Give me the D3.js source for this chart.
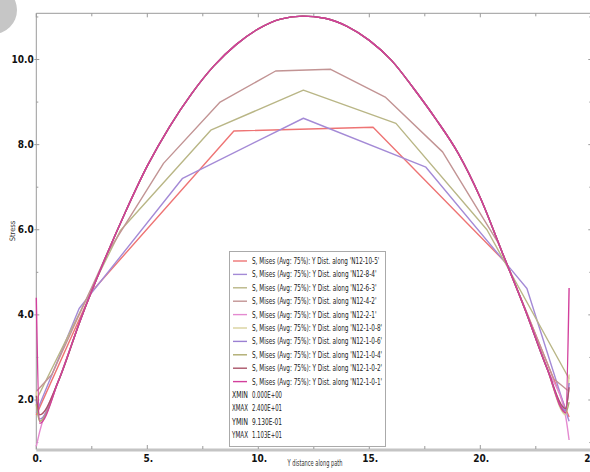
<!DOCTYPE html>
<html>
<head>
<meta charset="utf-8">
<script src="https://cdn.jsdelivr.net/npm/d3@7"></script>
<style>
body { margin: 0; background: #fff; }
svg { display: block; }
</style>
</head>
<body>
<svg id="chart" width="590" height="472"></svg>
<script>
(function () {
'use strict';

// path names in legend order
var seriesNames = ["N12-10-5", "N12-8-4", "N12-6-3", "N12-4-2", "N12-2-1",
    "N12-1-0-8", "N12-1-0-6", "N12-1-0-4", "N12-1-0-2", "N12-1-0-1"];
var seriesColors = ["#ee7474", "#a48ad6", "#b9b686", "#c29494", "#e48ad0",
    "#d9d19c", "#9b80d2", "#aeab6e", "#aa5468", "#d23f9c"];

// coarse meshes: nodes
var mesh10x = [0, 2.5, 8.9, 15.17, 21.2, 24];
var mesh10y = [1.65, 4.55, 8.32, 8.41, 5.2, 1.6];
var mesh8x = [0, 1.93, 6.59, 12.03, 17.55, 22.1, 24];
var mesh8y = [1.7, 4.15, 7.21, 8.62, 7.47, 4.62, 1.5];
var mesh6x = [0, 3.8, 7.86, 12.03, 16.2, 20.3, 24];
var mesh6y = [2.0, 5.99, 8.34, 9.28, 8.5, 6.0, 2.5];
var mesh4x = [0, 0.7, 3.2, 5.73, 8.28, 10.78, 13.26, 15.74, 18.3, 20.8, 23.3, 24];
var mesh4y = [2.2, 2.6, 5.45, 7.56, 9.0, 9.73, 9.77, 9.11, 7.83, 5.7, 2.5, 2.2];

// fine meshes share the same curve away from the ends
var fineX = [0, 0.15, 1, 2, 3, 4, 5, 6, 7, 8, 9, 10, 11, 12, 13, 14, 15, 16, 17,
    18, 19, 20, 21, 22, 23, 23.85, 24];
var fineStress = [2.45, 3.9, 5.2, 6.4, 7.5, 8.42, 9.2, 9.85, 10.35, 10.72, 10.95, 11.02,
    10.97, 10.78, 10.45, 9.98, 9.32, 8.6, 7.8, 6.75, 5.45, 4.15, 2.75];
var fineStart = [[0.91, 1.25], [2.2, 1.5], [2.0, 1.55], [1.9, 1.5], [2.1, 1.65], [4.4, 1.45]];
var fineEnd = [[1.6, 1.06], [1.65, 2.6], [1.75, 2.4], [1.7, 1.95], [1.8, 2.3], [1.7, 4.63]];

var xMajor = [0, 5, 10, 15, 20, 25];
var xMinor = [2.5, 7.5, 12.5, 17.5, 22.5];
var yMajor = [2, 4, 6, 8, 10];
var yMinor = [1, 3, 5, 7, 9, 11];
var extremes = [["XMIN", "0.000E+00"], ["XMAX", "2.400E+01"], ["YMIN", "9.130E-01"], ["YMAX", "1.103E+01"]];

function zip(xs, ys) {
    return xs.map(function (x, i) { return [x, ys[i]]; });
}

var series = [zip(mesh10x, mesh10y), zip(mesh8x, mesh8y), zip(mesh6x, mesh6y), zip(mesh4x, mesh4y)];
fineStart.forEach(function (s, i) {
    var ys = s.concat(fineStress, fineEnd[i]);
    series.push(zip(fineX, ys));
});

var svg = d3.select("#chart");
var left = 36.3, right = 591.3, top = 13.3, bottom = 450;

var x = d3.scaleLinear().domain([0, 25]).range([left, right]);
var y = d3.scaleLinear().domain([0.825, 11.086]).range([bottom, top]);

// grey blob in the corner
svg.append("circle")
    .attr("cx", -7).attr("cy", 10).attr("r", 24)
    .attr("fill", "#c6c6c6");

var axes = svg.append("g").attr("stroke", "#9a9a9a").attr("fill", "none");
axes.append("line").attr("x1", left).attr("x2", right).attr("y1", top).attr("y2", top);
axes.append("line").attr("x1", left).attr("x2", left).attr("y1", top).attr("y2", bottom);
axes.append("line").attr("x1", right).attr("x2", right).attr("y1", top).attr("y2", bottom);
axes.append("line").attr("x1", left).attr("x2", right).attr("y1", bottom).attr("y2", bottom)
    .attr("stroke", "#c4c4c4").attr("stroke-width", 3);

function xTicks(vals, len) {
    vals.forEach(function (v) {
        axes.append("line").attr("x1", x(v)).attr("x2", x(v)).attr("y1", top).attr("y2", top + len);
        axes.append("line").attr("x1", x(v)).attr("x2", x(v)).attr("y1", bottom - 1).attr("y2", bottom - 1 - len);
    });
}
function yTicks(vals, len, out) {
    vals.forEach(function (v) {
        axes.append("line").attr("x1", left - out).attr("x2", left + len).attr("y1", y(v)).attr("y2", y(v));
        axes.append("line").attr("x1", right).attr("x2", right - len).attr("y1", y(v)).attr("y2", y(v));
    });
}
xTicks(xMajor, 4);
xTicks(xMinor, 3);
yTicks(yMajor, 3, 2);
yTicks(yMinor, 2, 0);

var tickFont = "'Liberation Sans Narrow', 'DejaVu Sans Condensed', sans-serif";

svg.append("g").selectAll("text")
    .data(yMajor).enter().append("text")
    .attr("x", left - 2.5)
    .attr("y", function (d) { return y(d) + 3.5; })
    .attr("text-anchor", "end")
    .attr("font-family", tickFont).attr("font-weight", "bold").attr("font-size", 10)
    .attr("fill", "#111")
    .text(d3.format(".1f"));

svg.append("g").selectAll("text")
    .data(xMajor).enter().append("text")
    .attr("x", function (d) { return x(d) + 1; })
    .attr("y", 462)
    .attr("text-anchor", "middle")
    .attr("font-family", tickFont).attr("font-weight", "bold").attr("font-size", 10)
    .attr("fill", "#111")
    .text(function (d) { return d + "."; });

svg.append("text")
    .attr("transform", "translate(15,231) rotate(-90)")
    .attr("text-anchor", "middle")
    .attr("font-family", "'DejaVu Sans Condensed', sans-serif").attr("font-size", 7.5)
    .attr("fill", "#333")
    .text("Stress");

svg.append("text")
    .attr("x", 315).attr("y", 466)
    .attr("text-anchor", "middle")
    .attr("font-family", tickFont).attr("font-size", 8)
    .attr("fill", "#333")
    .attr("textLength", 55).attr("lengthAdjust", "spacingAndGlyphs")
    .text("Y distance along path");

var coarseLine = d3.line()
    .x(function (d) { return x(d[0]); })
    .y(function (d) { return y(d[1]); });
var fineLine = d3.line()
    .curve(d3.curveMonotoneX)
    .x(function (d) { return x(d[0]); })
    .y(function (d) { return y(d[1]); });

svg.append("g").selectAll("path")
    .data(series).enter().append("path")
    .attr("d", function (d, i) { return i < 4 ? coarseLine(d) : fineLine(d); })
    .attr("fill", "none")
    .attr("stroke", function (d, i) { return seriesColors[i]; })
    .attr("stroke-width", 1.4)
    .attr("stroke-linejoin", "round");

// legend
var legend = svg.append("g");
legend.append("rect")
    .attr("x", 229.5).attr("y", 251.5).attr("width", 156).attr("height", 195)
    .attr("fill", "#fff").attr("stroke", "#aaa");

var rowY = d3.scaleLinear().domain([0, 1]).range([261, 274.4]);

seriesNames.forEach(function (name, i) {
    var cy = rowY(i);
    legend.append("line")
        .attr("x1", 233).attr("x2", 247).attr("y1", cy).attr("y2", cy)
        .attr("stroke", seriesColors[i]).attr("stroke-width", 1.4);
    var label = "S, Mises (Avg: 75%): Y Dist. along '" + name + "'";
    legend.append("text")
        .attr("x", 252).attr("y", cy + 3)
        .attr("font-family", tickFont).attr("font-size", 8)
        .attr("fill", "#222")
        .attr("textLength", label.length * 2.83).attr("lengthAdjust", "spacingAndGlyphs")
        .text(label);
});

extremes.forEach(function (row, j) {
    var cy = rowY(10 + j);
    legend.append("text")
        .attr("x", 232).attr("y", cy + 3)
        .attr("font-family", tickFont).attr("font-size", 8).attr("fill", "#222")
        .attr("textLength", 16).attr("lengthAdjust", "spacingAndGlyphs")
        .text(row[0]);
    legend.append("text")
        .attr("x", 252).attr("y", cy + 3)
        .attr("font-family", tickFont).attr("font-size", 8).attr("fill", "#222")
        .attr("textLength", 30).attr("lengthAdjust", "spacingAndGlyphs")
        .text(row[1]);
});
})();
</script>
</body>
</html>
